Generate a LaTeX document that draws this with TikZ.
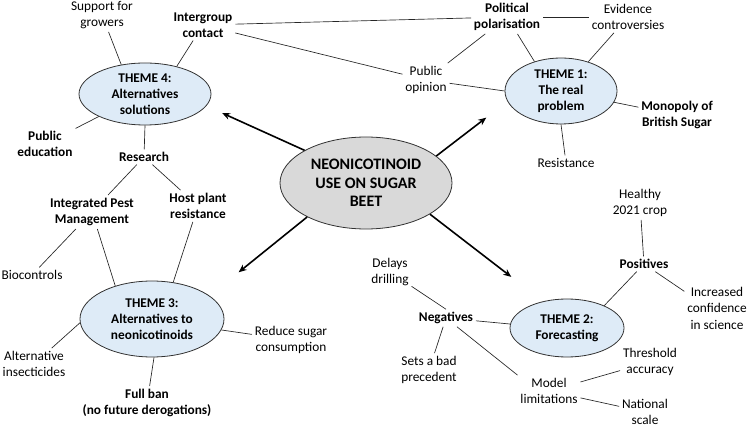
\documentclass[tikz,border=0pt]{standalone}
\usepackage{fontspec}
\setmainfont{Carlito}
\usepackage{tikz}
\usetikzlibrary{arrows.meta,shapes.geometric}
\definecolor{ThemeBlue}{RGB}{222,235,247}
\definecolor{HubGrey}{RGB}{217,217,217}
\definecolor{EdgeGrey}{RGB}{50,50,50}

\begin{document}
\begin{tikzpicture}[x=0.75pt,y=-0.75pt,
    theme/.style={ellipse,draw=EdgeGrey,line width=0.6pt,fill=ThemeBlue,
      inner sep=0pt,align=center,font=\fontsize{10}{12.2}\selectfont\bfseries},
    hub/.style={ellipse,draw=EdgeGrey,line width=0.6pt,fill=HubGrey,
      inner sep=0pt,align=center,minimum width=129pt,minimum height=69pt,
      font=\fontsize{12}{14}\selectfont\bfseries},
    lbl/.style={align=center,inner sep=2pt,font=\fontsize{10}{12.4}\selectfont},
    blbl/.style={lbl,font=\fontsize{10}{12.4}\selectfont\bfseries},
    link/.style={draw=black!85,line width=0.5pt},
    arr/.style={line width=1.2pt,-{Stealth[length=6pt,width=5pt]}}]
  \useasboundingbox (0,0) rectangle (749,427);

  \node[hub] (cen) at (366,183) {NEONICOTINOID\\USE ON SUGAR\\BEET};
  \node[theme,minimum width=99pt,minimum height=46.5pt] (t4) at (145,94)
    {THEME 4:\\Alternatives\\solutions};
  \node[theme,minimum width=84pt,minimum height=49.5pt] (t1) at (561,91)
    {THEME 1:\\The real\\problem};
  \node[theme,minimum width=108pt,minimum height=57pt] (t3) at (152,319)
    {THEME 3:\\Alternatives to\\neonicotinoids};
  \node[theme,minimum width=85.5pt,minimum height=43.5pt] (t2) at (567,328)
    {THEME 2:\\Forecasting};

  \node[lbl] (sup) at (102,15) {Support for\\growers};
  \node[blbl] (inter) at (203,25) {Intergroup\\contact};
  \node[blbl] (pubed) at (45,144) {Public\\education};
  \node[blbl] (res) at (144,157) {Research};
  \node[blbl] (ipm) at (92,212) {Integrated Pest\\Management};
  \node[blbl] (host) at (198,206) {Host plant\\resistance};
  \node[blbl] (pol) at (507,17) {Political\\polarisation};
  \node[lbl] (evid) at (628,17) {Evidence\\controversies};
  \node[lbl] (pubop) at (426,80) {Public\\opinion};
  \node[blbl] (mono) at (677,115) {Monopoly of\\British Sugar};
  \node[lbl] (resis) at (566,163) {Resistance};
  \node[lbl] (heal) at (640,203) {Healthy\\2021 crop};
  \node[blbl] (pos) at (644,264) {Positives};
  \node[lbl] (inc) at (717,308) {Increased\\confidence\\in science};
  \node[lbl] (delay) at (390,272) {Delays\\drilling};
  \node[blbl] (neg) at (446,318) {Negatives};
  \node[lbl] (prec) at (429,370) {Sets a bad\\precedent};
  \node[lbl] (model) at (549,391) {Model\\limitations};
  \node[lbl] (thr) at (650,362) {Threshold\\accuracy};
  \node[lbl] (nat) at (645,412) {National\\scale};
  \node[lbl] (bio) at (32,275) {Biocontrols};
  \node[lbl] (altins) at (34,364) {Alternative\\insecticides};
  \node[lbl] (redu) at (291,340) {Reduce sugar\\consumption};
  \node[blbl] (ban) at (147,403) {Full ban\\(no future derogations)};

  \draw[arr,shorten >=13pt] (cen.152) -- (t4.349);
  \draw[arr,shorten >=20pt] (cen.21) -- (t1.191);
  \draw[arr,shorten >=28pt] (cen.210) -- (t3.22);
  \draw[arr,shorten >=30pt] (cen.334) -- (t2.132);

  \draw[link] (sup) -- (t4.129);
  \draw[link] (inter) -- (t4.41);
  \draw[link] (pubed) -- (t4.206);
  \draw[link] (t4.270) -- (res);
  \draw[link] (res) -- (ipm);
  \draw[link] (res) -- (host);
  \draw[link] (inter) -- (pol);
  \draw[link] (inter) -- (pubop);
  \draw[link] (pol) -- (t1.132);
  \draw[link] (evid) -- (pol);
  \draw[link] (evid) -- (t1.47);
  \draw[link] (pubop) -- (pol);
  \draw[link] (pubop) -- (t1.180);
  \draw[link] (t1.348) -- (mono);
  \draw[link] (t1.270) -- (resis);
  \draw[link] (heal) -- (pos);
  \draw[link] (pos) -- (t2.31);
  \draw[link] (pos) -- (inc.153);
  \draw[link] (delay) -- (neg.north);
  \draw[link] (neg) -- (t2.176);
  \draw[link] (neg) -- (prec);
  \draw[link] (neg) -- (model.north west);
  \draw[link] (model) -- (thr);
  \draw[link] (model) -- (nat);
  \draw[link] (ipm) -- (bio);
  \draw[link] (ipm) -- (t3.138);
  \draw[link] (host) -- (t3.60);
  \draw[link] (t3.183) -- (altins);
  \draw[link] (t3.351) -- (redu);
  \draw[link] (t3.273) -- (ban);
\end{tikzpicture}
\end{document}
